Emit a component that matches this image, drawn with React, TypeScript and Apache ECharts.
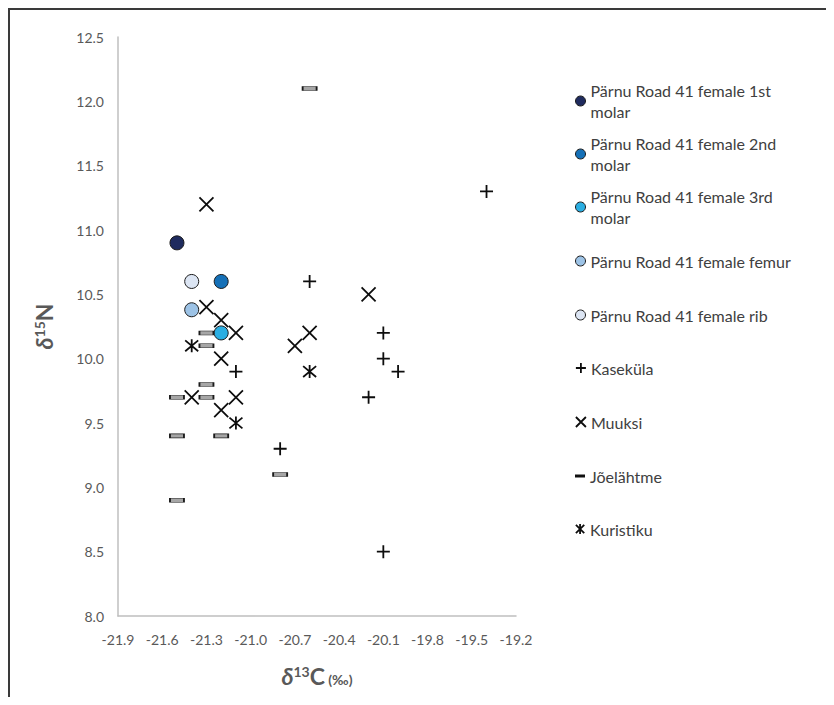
import React, { useEffect, useRef } from "react";
import * as echarts from "echarts";

// ---- data ----
const seriesNames = [
  "Pärnu Road 41 female 1st molar",
  "Pärnu Road 41 female 2nd molar",
  "Pärnu Road 41 female 3rd molar",
  "Pärnu Road 41 female femur",
  "Pärnu Road 41 female rib",
  "Kaseküla",
  "Muuksi",
  "Jõelähtme",
  "Kuristiku",
];

const molar1C = [-21.5];
const molar1N = [10.9];
const molar2C = [-21.2];
const molar2N = [10.6];
const molar3C = [-21.2];
const molar3N = [10.2];
const femurC = [-21.4];
const femurN = [10.38];
const ribC = [-21.4];
const ribN = [10.6];

const kasekulaC = [-19.4, -20.6, -20.1, -20.1, -20.0, -20.2, -21.1, -20.8, -20.1];
const kasekulaN = [11.3, 10.6, 10.2, 10.0, 9.9, 9.7, 9.9, 9.3, 8.5];

const muuksiC = [-21.3, -20.2, -21.3, -21.2, -21.1, -21.2, -20.6, -20.7, -21.4, -21.1, -21.2];
const muuksiN = [11.2, 10.5, 10.4, 10.3, 10.2, 10.0, 10.2, 10.1, 9.7, 9.7, 9.6];

const joelahtmeC = [-20.6, -21.3, -21.3, -21.3, -21.5, -21.3, -21.5, -21.2, -20.8, -21.5];
const joelahtmeN = [12.1, 10.2, 10.1, 9.8, 9.7, 9.7, 9.4, 9.4, 9.1, 8.9];

const kuristikuC = [-21.4, -20.6, -21.1];
const kuristikuN = [10.1, 9.9, 9.5];

const xMin = -21.9;
const xMax = -19.2;
const xStep = 0.3;
const yMin = 8.0;
const yMax = 12.5;
const yStep = 0.5;

const legendLabels = [
  "Pärnu Road 41 female 1st\nmolar",
  "Pärnu Road 41 female 2nd\nmolar",
  "Pärnu Road 41 female 3rd\nmolar",
  "Pärnu Road 41 female femur",
  "Pärnu Road 41 female rib",
  "Kaseküla",
  "Muuksi",
  "Jõelähtme",
  "Kuristiku",
];

// ---- styles ----
const FONT = "Lato, 'Open Sans', sans-serif";
const circleColors = ["#1f2b5e", "#1570b7", "#2aaee2", "#9dc3e6", "#dce5f3"];
const PLUS = "path://M0,5H10M5,0V10";
const CROSS = "path://M0,0L10,10M10,0L0,10";
const STAR = "path://M0,0L10,10M10,0L0,10M5,-1V11";

const pts = (xs: number[], ys: number[]) => xs.map((x, i) => [x, ys[i]]);

export default function App() {
  const ref = useRef<HTMLDivElement>(null);

  useEffect(() => {
    if (!ref.current) return;
    const chart = echarts.init(ref.current, null, { renderer: "svg" });

    const circleData = [
      pts(molar1C, molar1N),
      pts(molar2C, molar2N),
      pts(molar3C, molar3N),
      pts(femurC, femurN),
      pts(ribC, ribN),
    ];

    const strokeStyle = { color: "transparent", borderColor: "#0d0d0d", borderWidth: 1.8, opacity: 1 };

    const series: any[] = [
      {
        name: seriesNames[5],
        type: "scatter",
        data: pts(kasekulaC, kasekulaN),
        symbol: PLUS,
        symbolSize: 13,
        itemStyle: strokeStyle,
        z: 2,
      },
      {
        name: seriesNames[6],
        type: "scatter",
        data: pts(muuksiC, muuksiN),
        symbol: CROSS,
        symbolSize: 14,
        itemStyle: strokeStyle,
        z: 2,
      },
      {
        name: seriesNames[7],
        type: "scatter",
        data: pts(joelahtmeC, joelahtmeN),
        symbol: "rect",
        symbolSize: [14, 4],
        itemStyle: { color: "#a6a6a6", borderColor: "#1a1a1a", borderWidth: 1, opacity: 1 },
        z: 2,
      },
      {
        name: seriesNames[8],
        type: "scatter",
        data: pts(kuristikuC, kuristikuN),
        symbol: STAR,
        symbolSize: 13,
        itemStyle: strokeStyle,
        z: 2,
      },
      ...circleData.map((d, i) => ({
        name: seriesNames[i],
        type: "scatter",
        data: d,
        symbol: "circle",
        symbolSize: 14,
        itemStyle: { color: circleColors[i], borderColor: "#1a1a1a", borderWidth: 1, opacity: 1 },
        z: 3,
      })),
    ];

    const centers = [91, 144, 197, 251, 305, 358, 412, 466, 519];
    const L = 21;
    const legends = seriesNames.map((name, i) => {
      const twoLine = legendLabels[i].includes("\n");
      const isDash = i === 7;
      const isCircle = i < 5;
      return {
        orient: "vertical",
        left: 565,
        top: twoLine ? centers[i] - 1.5 * L : centers[i] - L / 2,
        padding: 0,
        selectedMode: false,
        itemWidth: 10,
        itemHeight: isDash ? 3 : 10,
        icon: isDash ? "rect" : undefined,
        itemStyle: isDash
          ? { color: "#111", borderWidth: 0, opacity: 1 }
          : isCircle
          ? { color: circleColors[i], borderColor: "#1a1a1a", borderWidth: 1, opacity: 1 }
          : { color: "transparent", borderColor: "#0d0d0d", borderWidth: 1.8, opacity: 1 },
        formatter: () => legendLabels[i],
        data: [
          {
            name,
            textStyle: twoLine ? { padding: [L, 0, 0, 0] } : {},
          },
        ],
        textStyle: {
          fontSize: 16,
          lineHeight: L,
          color: "#404040",
          fontFamily: FONT,
        },
      };
    });

    const labelStyle = { color: "#595959", fontSize: 14, fontFamily: FONT };

    chart.setOption({
      animation: false,
      backgroundColor: "#ffffff",
      textStyle: { fontFamily: FONT },
      grid: { left: 108, top: 27, width: 398, height: 579, containLabel: false },
      legend: legends,
      xAxis: {
        type: "value",
        min: xMin,
        max: xMax,
        interval: xStep,
        axisLine: { show: true, onZero: false, lineStyle: { color: "#bfbfbf", width: 1.5 } },
        axisTick: { show: false },
        splitLine: { show: false },
        axisLabel: {
          ...labelStyle,
          margin: 16,
          formatter: (v: number) => v.toFixed(1),
        },
        name: "{d|δ}{s|13}{c|C}{p| (‰)}",
        nameLocation: "middle",
        nameGap: 48,
        nameTextStyle: {
          rich: {
            d: { fontSize: 23, fontWeight: "bold", fontStyle: "italic", color: "#595959", fontFamily: FONT, verticalAlign: "bottom" },
            s: { fontSize: 14, fontWeight: "bold", color: "#595959", fontFamily: FONT, verticalAlign: "bottom", padding: [0, 0, 9, 0] },
            c: { fontSize: 23, fontWeight: "bold", color: "#595959", fontFamily: FONT, verticalAlign: "bottom" },
            p: { fontSize: 14, fontWeight: "bold", color: "#595959", fontFamily: FONT, verticalAlign: "bottom", padding: [0, 0, 1, 0] },
          },
        },
      },
      yAxis: {
        type: "value",
        min: yMin,
        max: yMax,
        interval: yStep,
        axisLine: { show: true, onZero: false, lineStyle: { color: "#bfbfbf", width: 1.5 } },
        axisTick: { show: false },
        splitLine: { show: false },
        axisLabel: {
          ...labelStyle,
          margin: 14,
          formatter: (v: number) => v.toFixed(1),
        },
        name: "{d|δ}{s|15}{c|N}",
        nameLocation: "middle",
        nameRotate: 90,
        nameGap: 63,
        nameTextStyle: {
          rich: {
            d: { fontSize: 23, fontWeight: "bold", fontStyle: "italic", color: "#595959", fontFamily: FONT, verticalAlign: "bottom" },
            s: { fontSize: 14, fontWeight: "bold", color: "#595959", fontFamily: FONT, verticalAlign: "bottom", padding: [0, 0, 9, 0] },
            c: { fontSize: 23, fontWeight: "bold", color: "#595959", fontFamily: FONT, verticalAlign: "bottom" },
          },
        },
      },
      series,
    });

    return () => chart.dispose();
  }, []);

  return (
    <div
      style={{
        position: "relative",
        width: 818,
        height: 689,
        borderTop: "2px solid #3a3a3a",
        borderLeft: "2px solid #3a3a3a",
        boxSizing: "border-box",
        overflow: "hidden",
      }}
    >
      <div ref={ref} style={{ width: 816, height: 687 }} />
    </div>
  );
}
